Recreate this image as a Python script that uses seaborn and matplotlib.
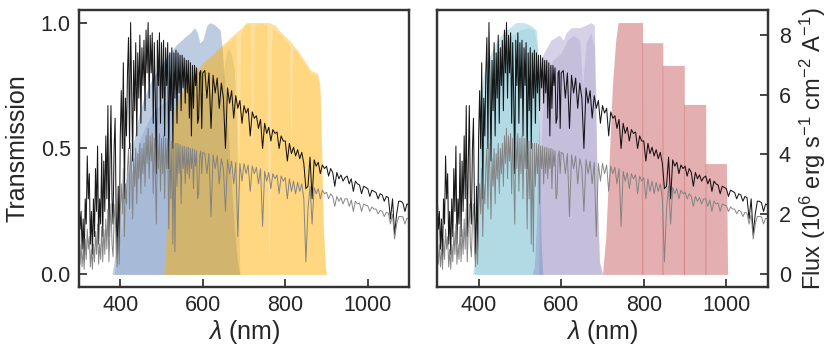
import numpy as np
import matplotlib
matplotlib.use('Agg')
import matplotlib.pyplot as plt
import seaborn as sns

# Rejilla del espectro (nm): cada 2.5 nm hasta 600, cada 5 nm hasta 1100
wl = np.concatenate([np.arange(300, 600.1, 2.5), np.arange(605, 1100.1, 5)])

# Espectro sin extinción (negro), en 10^6 erg s^-1 cm^-2 A^-1
flux_black = [
    2.52, 1.51, 2.10, 0.84,  1.85, 0.50, 2.52, 1.68,
    3.95, 2.52, 3.36, 1.01,  2.10, 0.67, 2.52, 1.26,
    3.53, 2.10, 4.28, 1.01,  2.52, 1.68, 4.03, 1.26,
    3.78, 2.10, 4.62, 2.52,  5.63, 1.26, 3.78, 5.63,
    2.52, 1.68, 4.20, 5.21,  2.10, 0.67, 2.94, 0.84,
    4.62, 6.13, 4.20, 7.06,  2.52, 5.88, 4.62, 6.72,
    7.90, 4.20, 8.40, 6.30,  3.78, 7.14, 5.46, 7.73,
    4.62, 7.39, 5.88, 7.98,  5.04, 7.56, 6.30, 7.81,
    5.46, 8.15, 6.72, 8.40,  5.88, 7.98, 6.72, 8.06,
    5.04, 7.73, 5.88, 3.36,  7.81, 6.30, 8.06, 5.04,
    7.73, 5.88, 7.81, 4.62,  7.56, 6.30, 7.73, 3.53,
    7.39, 5.46, 7.56, 4.20,  7.39, 5.88, 7.48, 5.04,
    7.39, 6.05, 7.31, 5.46,  7.31, 6.22, 7.22, 5.71,
    7.14, 6.05, 7.14, 5.21,  7.06, 4.62, 6.97, 5.54,
    6.97, 6.30, 6.89, 5.04,  5.21, 6.72, 6.80, 4.87,
    6.72,
    6.80, 5.88, 6.72, 4.87, 6.64, 6.05, 6.55, 5.54, 6.38, 5.88,
    4.20, 6.22, 5.71, 6.13, 5.21, 5.96, 5.54, 5.80, 5.04, 5.63,
    5.38, 5.54, 4.62, 5.42, 5.21, 5.29, 4.87, 5.17, 4.20, 5.04,
    4.70, 4.91, 4.45, 4.83, 4.70, 4.75, 4.20, 4.62, 4.45, 4.45,
    3.78, 4.37, 4.03, 4.24, 3.95, 4.16, 3.86, 4.07, 3.70, 2.86,
    2.94, 3.91, 2.52, 3.82, 3.61, 3.74, 3.36, 3.65, 3.53, 3.61,
    3.28, 3.53, 3.40, 2.94, 3.40, 3.19, 3.32, 3.11, 3.23, 3.28,
    3.02, 3.19, 2.77, 3.11, 3.02, 2.98, 2.69, 2.94, 2.90, 2.86,
    2.60, 2.81, 2.77, 2.73, 2.52, 2.69, 2.65, 2.44, 2.60, 2.56,
    1.85, 2.52, 1.34, 2.02, 2.44, 2.44, 2.39, 2.10, 2.35, 2.31,
]

# Espectro con extinción (gris)
flux_gray = [
    0.84, 0.34, 1.01, 0.25,  0.84, 0.17, 1.18, 0.50,
    1.51, 0.84, 1.26, 0.25,  0.84, 0.17, 1.01, 0.42,
    1.43, 0.67, 1.68, 0.34,  1.01, 0.50, 1.60, 0.42,
    1.51, 0.67, 1.85, 0.84,  2.18, 0.42, 1.51, 2.35,
    1.01, 0.59, 1.85, 2.35,  0.84, 0.25, 1.26, 0.34,
    2.10, 3.02, 2.02, 3.53,  1.26, 3.02, 2.35, 3.53,
    4.20, 2.18, 4.37, 3.36,  1.85, 3.86, 2.94, 4.20,
    2.35, 4.03, 3.19, 4.37,  2.69, 4.20, 3.36, 4.37,
    2.94, 4.62, 3.70, 4.87,  3.19, 4.62, 3.78, 4.70,
    2.69, 4.54, 3.36, 1.68,  4.62, 3.53, 4.70, 2.77,
    4.54, 3.36, 4.62, 2.52,  4.54, 3.53, 4.54, 1.51,
    4.45, 2.52, 4.45, 1.01,  4.37, 0.76, 4.37, 2.94,
    4.37, 3.36, 4.33, 2.35,  4.28, 3.53, 4.28, 3.02,
    4.24, 3.36, 4.24, 3.19,  4.20, 3.53, 4.20, 2.86,
    4.16, 3.61, 4.12, 2.52,  2.69, 3.95, 4.12, 3.36,
    4.07,
    4.03, 3.36, 4.03, 1.93, 3.99, 3.53, 3.95, 3.02, 3.86, 3.53,
    2.10, 3.82, 3.36, 3.78, 3.02, 3.74, 1.26, 3.70, 3.11, 3.70,
    3.36, 3.65, 2.77, 3.61, 3.36, 3.57, 3.02, 3.53, 1.60, 3.44,
    3.11, 3.40, 2.86, 3.36, 3.19, 3.32, 2.69, 3.28, 3.11, 3.23,
    2.52, 3.19, 2.77, 3.11, 2.69, 3.07, 2.77, 3.02, 2.52, 0.42,
    2.18, 2.94, 1.68, 2.90, 2.69, 2.86, 2.52, 2.81, 2.69, 2.74,
    2.52, 2.69, 2.60, 2.27, 2.60, 2.44, 2.56, 2.35, 2.52, 2.52,
    2.27, 2.48, 2.10, 2.44, 2.35, 2.38, 2.10, 2.35, 2.31, 2.29,
    2.10, 2.25, 2.18, 2.18, 2.02, 2.14, 2.10, 1.93, 2.07, 2.04,
    1.68, 2.00, 1.18, 1.68, 1.93, 1.93, 1.92, 1.68, 1.87, 1.85,
]
assert len(wl) == len(flux_black) == len(flux_gray)

# Filtros del panel izquierdo
blue_a_wl = [380, 385, 395, 405, 415, 425, 435, 445, 455, 465, 475, 495, 515, 535, 555, 570,
             580, 587, 593, 600, 610, 618, 630, 642, 647, 652, 660, 668, 676, 684, 690]
blue_a_tr = [0, 0.05, 0.18, 0.30, 0.38, 0.46, 0.55, 0.63, 0.69, 0.73, 0.77, 0.82, 0.87, 0.91, 0.94, 0.96,
             0.98, 0.96, 0.92, 0.93, 0.99, 1.0, 0.99, 0.97, 0.90, 0.78, 0.60, 0.40, 0.20, 0.05, 0]
blue_b_wl = [385, 400, 420, 450, 480, 520, 560, 600, 630, 645, 655, 661, 668, 676, 682, 686, 690]
blue_b_tr = [0, 0.15, 0.35, 0.55, 0.65, 0.70, 0.72, 0.72, 0.72, 0.75, 0.86, 0.90, 0.88, 0.82, 0.60, 0.30, 0]
orange_a_wl = [505, 510, 515, 520, 530, 545, 560, 580, 600, 620, 640, 660, 680, 695, 705,
               740, 760, 775, 790, 810, 830, 850, 862, 878, 884, 888, 892, 897, 900]
orange_a_tr = [0, 0.10, 0.35, 0.50, 0.65, 0.72, 0.76, 0.80, 0.84, 0.87, 0.90, 0.93, 0.96, 0.98, 1.0,
               1.0, 1.0, 0.99, 0.96, 0.93, 0.89, 0.84, 0.81, 0.80, 0.75, 0.50, 0.20, 0.03, 0]
orange_b_wl = [510, 515, 520, 530, 545, 560, 580, 600, 620, 640, 660, 680, 685, 688, 692, 700, 715, 718, 721, 725,
               740, 755, 759, 762, 766, 770, 790, 810, 814, 818, 830, 850, 862, 878, 884, 888, 892, 897, 900]
orange_b_tr = [0, 0.30, 0.45, 0.60, 0.70, 0.75, 0.79, 0.83, 0.86, 0.89, 0.92, 0.95, 0.50, 0.45, 0.95, 0.99, 1.0, 0.50, 0.55, 0.99,
               1.0, 0.99, 0.05, 0.10, 0.90, 0.98, 0.95, 0.91, 0.45, 0.90, 0.88, 0.83, 0.80, 0.79, 0.74, 0.50, 0.20, 0.03, 0]

# Filtros del panel derecho
cyan_a_wl = [385, 390, 395, 400, 405, 415, 430, 445, 460, 475, 490, 510, 525, 540, 545, 548, 551, 555]
cyan_a_tr = [0, 0.05, 0.35, 0.60, 0.72, 0.82, 0.88, 0.93, 0.96, 0.98, 1.0, 1.0, 0.99, 0.97, 0.85, 0.50, 0.15, 0]
cyan_b_wl = [390, 395, 400, 410, 425, 440, 460, 480, 500, 520, 535, 542, 547, 552, 556]
cyan_b_tr = [0, 0.20, 0.45, 0.65, 0.78, 0.86, 0.92, 0.95, 0.97, 0.98, 0.97, 0.90, 0.50, 0.10, 0]
purple_a_wl = [530, 535, 540, 545, 550, 555, 565, 575, 585, 595, 605, 612, 625, 645, 660, 672, 680, 684, 688, 693, 700]
purple_a_tr = [0, 0.03, 0.20, 0.55, 0.78, 0.87, 0.90, 0.93, 0.94, 0.95, 0.93, 0.96, 0.98, 0.98, 0.99, 1.0, 0.99, 0.70, 0.30, 0.05, 0]
purple_b_wl = [545, 550, 560, 580, 600, 615, 630, 645, 652, 660, 672, 680, 686, 692, 700]
purple_b_tr = [0, 0.50, 0.80, 0.85, 0.88, 0.93, 0.95, 0.93, 0.75, 0.92, 0.96, 0.90, 0.40, 0.05, 0]
red_a_wl = [700, 708, 716, 724, 732, 738, 797, 797.5]
red_a_tr = [0, 0.15, 0.45, 0.75, 0.93, 1.0, 1.0, 0]
red_b_wl = [795, 795.5, 846, 846.5]
red_b_tr = [0, 0.92, 0.92, 0]
red_c_wl = [844, 844.5, 898, 898.5]
red_c_tr = [0, 0.83, 0.83, 0]
red_d_wl = [896, 896.5, 950, 950.5]
red_d_tr = [0, 0.675, 0.675, 0]
red_e_wl = [948, 948.5, 1000, 1003]
red_e_tr = [0, 0.44, 0.44, 0]

flux_top = 8.4

sns.set_theme(style='ticks')
plt.rcParams['font.family'] = ['Liberation Sans', 'DejaVu Sans']
plt.rcParams['mathtext.fontset'] = 'custom'
plt.rcParams['mathtext.rm'] = 'Liberation Sans'
plt.rcParams['mathtext.it'] = 'Liberation Sans:italic'
plt.rcParams['xtick.direction'] = 'in'
plt.rcParams['ytick.direction'] = 'in'

fig = plt.figure(figsize=(8.3, 3.59), dpi=100)
ax_l = fig.add_axes([0.0952, 0.2006, 0.3976, 0.7716])
ax_r = fig.add_axes([0.5269, 0.2006, 0.398, 0.7716])

filtros_izq = [
    (blue_a_wl, blue_a_tr, '#4C72B0', 0.36),
    (blue_b_wl, blue_b_tr, '#4C72B0', 0.2),
    (orange_a_wl, orange_a_tr, '#FFB000', 0.38),
    (orange_b_wl, orange_b_tr, '#FFB000', 0.18),
]
filtros_der = [
    (cyan_a_wl, cyan_a_tr, '#64B5CD', 0.35),
    (cyan_b_wl, cyan_b_tr, '#64B5CD', 0.22),
    (purple_a_wl, purple_a_tr, '#8172B2', 0.32),
    (purple_b_wl, purple_b_tr, '#8172B2', 0.18),
    (red_a_wl, red_a_tr, '#C44E52', 0.45),
    (red_b_wl, red_b_tr, '#C44E52', 0.45),
    (red_c_wl, red_c_tr, '#C44E52', 0.45),
    (red_d_wl, red_d_tr, '#C44E52', 0.45),
    (red_e_wl, red_e_tr, '#C44E52', 0.45),
]

twins = []
for ax, filtros in [(ax_l, filtros_izq), (ax_r, filtros_der)]:
    for f_wl, f_tr, color, alpha in filtros:
        ax.fill_between(f_wl, f_tr, 0, color=color, alpha=alpha, lw=0)
    ax.set_xlim(300, 1100)
    ax.set_ylim(-0.05, 1.05)
    ax.set_xticks([400, 600, 800, 1000])
    ax.set_xlabel(r'$\lambda$ (nm)', fontsize=18, labelpad=1)

    ax2 = ax.twinx()
    sns.lineplot(x=wl, y=flux_black, ax=ax2, color='black', linewidth=0.75,
                 estimator=None, sort=False, alpha=0.9)
    sns.lineplot(x=wl, y=flux_gray, ax=ax2, color='#808080', linewidth=0.7,
                 estimator=None, sort=False, alpha=0.95)
    ax2.set_ylim(-0.05 * flux_top, 1.05 * flux_top)
    twins.append(ax2)

    for a in (ax, ax2):
        a.tick_params(labelsize=15.5, length=6, width=1.2, pad=6, colors='#262626')
        for s in a.spines.values():
            s.set_linewidth(1.6)
            s.set_color('#333333')

ax_l.set_yticks([0, 0.5, 1.0])
ax_l.set_ylabel('Transmission', fontsize=18, labelpad=8)
twins[0].set_yticks([])

ax_r.set_yticks([])
twins[1].set_yticks([0, 2, 4, 6, 8])
twins[1].tick_params(axis='y', pad=8)
twins[1].set_ylabel(r'Flux (10$^6$ erg s$^{-1}$ cm$^{-2}$ A$^{-1}$)', fontsize=17, labelpad=5)

fig.savefig('out.png', dpi=100)
